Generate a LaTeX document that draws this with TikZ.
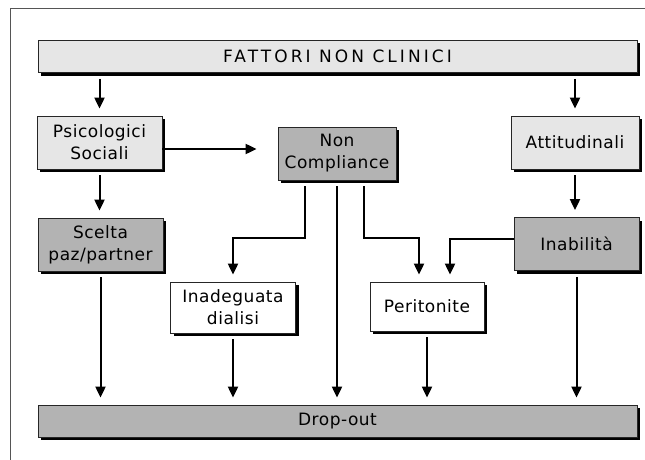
\documentclass[tikz,border=0pt]{standalone}
\usepackage{fontspec}
\setmainfont{DejaVu Sans}[LetterSpace=3]
\usepackage{tikz}
\usetikzlibrary{arrows.meta,positioning,calc,shadows}

\definecolor{boxlight}{HTML}{E6E6E6}
\definecolor{boxdark}{HTML}{B3B3B3}
\definecolor{framegray}{HTML}{555555}

\begin{document}
\begin{tikzpicture}[
  x=1pt, y=-1pt,
  >={Triangle[length=11pt,width=10pt]},
  font=\fontsize{17}{22}\selectfont,
  box/.style={draw=black!85, line width=0.8pt, align=center, inner sep=0pt, minimum height=53pt, minimum width=125pt, drop shadow={shadow xshift=3pt, shadow yshift=-3pt, fill=black, opacity=1}},
  light/.style={box, fill=boxlight},
  dark/.style={box, fill=boxdark},
  plain/.style={box, fill=white},
  wide/.style={minimum width=599pt, minimum height=32pt},
  arrow/.style={->, line width=2pt, shorten <=6pt, shorten >=7pt}
]
\useasboundingbox (0,0) rectangle (645,460);
\draw[framegray, line width=1pt] (10,460) -- (10,9) -- (645,9);

\node[light, wide] (fattori) at (337.5,56.5) {\addfontfeatures{LetterSpace=18}FATTORI NON CLINICI};
\node[light] (psico) at (99.5,142.5) {Psicologici\\Sociali};
\node[dark, minimum width=118pt] (noncomp) at (337,153.5) {Non\\Compliance};
\node[light, minimum width=128pt] (attit) at (575,142.5) {Attitudinali};
\node[dark] (scelta) at (100.5,244.5) {Scelta\\paz/partner};
\node[dark] (inabil) at (576.5,244) {Inabilità};
\node[plain, minimum height=51pt] (inadeg) at (233,307.5) {Inadeguata\\dialisi};
\node[plain, minimum width=114pt, minimum height=49pt] (perit) at (427,306.5) {Peritonite};
\node[dark, wide] (dropout) at (337.5,421) {Drop-out};

\draw[arrow] (psico.north |- fattori.south) -- (psico.north);
\draw[arrow] (attit.north |- fattori.south) -- (attit.north);
\draw[arrow, shorten <=0pt, shorten >=21pt] ([yshift=-6.5pt]psico.east) -- ([yshift=-6.5pt]psico.east -| noncomp.west);
\draw[arrow] (psico.south) -- (psico.south |- scelta.north);
\draw[arrow] (attit.south) -- (attit.south |- inabil.north);

\draw[arrow] ([xshift=-32pt]noncomp.south) -- ++(0,58) -| (inadeg.north);
\draw[arrow] ([xshift=27pt]noncomp.south) -- ++(0,58) -| ([xshift=-8pt]perit.north);
\draw[arrow, shorten <=0pt] ([yshift=5pt]inabil.west) -| ([xshift=23pt]perit.north);

\draw[arrow] (scelta.south) -- (scelta.south |- dropout.north);
\draw[arrow] (inadeg.south) -- (inadeg.south |- dropout.north);
\draw[arrow] (noncomp.south) -- (noncomp.south |- dropout.north);
\draw[arrow] (perit.south) -- (perit.south |- dropout.north);
\draw[arrow] (inabil.south) -- (inabil.south |- dropout.north);
\end{tikzpicture}
\end{document}
